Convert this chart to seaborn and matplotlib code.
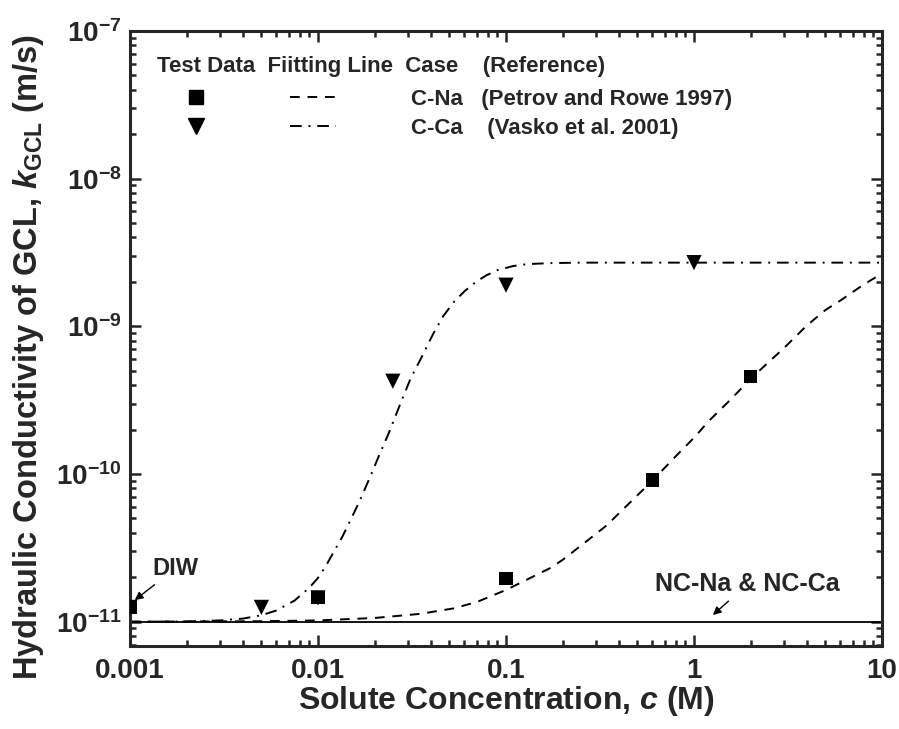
import numpy as np
import pandas as pd
import matplotlib
matplotlib.use("Agg")
import matplotlib.pyplot as plt
import seaborn as sns
from matplotlib.lines import Line2D
from matplotlib.legend_handler import HandlerTuple

# test data
na_conc = [0.001, 0.01, 0.1, 0.6, 2.0]
na_k = [1.25e-11, 1.46e-11, 1.96e-11, 9.1e-11, 4.6e-10]
ca_conc = [0.001, 0.005, 0.01, 0.025, 0.1, 1.0]
ca_k = [1.25e-11, 1.25e-11, 1.45e-11, 4.25e-10, 1.9e-9, 2.7e-9]

# fitting lines, points
na_fit_conc = [0.001, 0.005, 0.01, 0.02, 0.035, 0.0525, 0.07, 0.1, 0.171, 0.2,
               0.28, 0.344, 0.4, 0.6, 0.8, 1.0, 1.2, 1.49, 2.07, 3.0, 3.97,
               5.0, 5.98, 7.0, 8.0, 9.2, 10.0]
na_fit_k = [1.0e-11, 1.008e-11, 1.02e-11, 1.06e-11, 1.13e-11, 1.23e-11,
            1.36e-11, 1.64e-11, 2.3e-11, 2.62e-11, 3.66e-11, 4.5e-11, 5.44e-11,
            9.0e-11, 1.32e-10, 1.76e-10, 2.29e-10, 3.0e-10, 4.6e-10, 7.1e-10,
            1.01e-9, 1.29e-9, 1.49e-9, 1.71e-9, 1.92e-9, 2.14e-9, 2.28e-9]
ca_fit_conc = [0.001, 0.002, 0.003, 0.004, 0.005, 0.006, 0.0075, 0.009, 0.01,
               0.011, 0.012, 0.0135, 0.0148, 0.0165, 0.0189, 0.0213, 0.0237,
               0.0273, 0.031, 0.0356, 0.041, 0.0463, 0.053, 0.0605, 0.07,
               0.0789, 0.09, 0.109, 0.13, 0.171, 0.25, 1.0, 10.0]
ca_fit_k = [1.0e-11, 1.003e-11, 1.02e-11, 1.05e-11, 1.106e-11, 1.19e-11,
            1.39e-11, 1.7e-11, 1.98e-11, 2.38e-11, 2.9e-11, 3.78e-11, 4.8e-11,
            6.4e-11, 9.5e-11, 1.37e-10, 1.87e-10, 2.95e-10, 4.4e-10, 6.2e-10,
            8.9e-10, 1.17e-9, 1.47e-9, 1.74e-9, 2.02e-9, 2.22e-9, 2.4e-9,
            2.56e-9, 2.64e-9, 2.68e-9, 2.7e-9, 2.7e-9, 2.7e-9]

nc_k = 1e-11  # NC-Na & NC-Ca

x_ticks = [0.001, 0.01, 0.1, 1, 10]
x_tick_labels = ["0.001", "0.01", "0.1", "1", "10"]
y_ticks = [1e-11, 1e-10, 1e-9, 1e-8, 1e-7]

sns.set_style("ticks")
plt.rcParams["font.family"] = ["Liberation Sans", "DejaVu Sans"]
plt.rcParams["font.weight"] = "bold"
plt.rcParams["mathtext.fontset"] = "custom"
plt.rcParams["mathtext.rm"] = "Liberation Sans:bold"
plt.rcParams["mathtext.bf"] = "Liberation Sans:bold"
plt.rcParams["mathtext.it"] = "Liberation Sans:bold:italic"

fig = plt.figure(figsize=(8.99, 7.29), dpi=100)
ax = fig.add_axes([0.1446, 0.1139, 0.8365, 0.8436])

ax.axhline(nc_k, color="black", lw=1.3, zorder=1)

na_dash = (0, (5, 4))
ca_dash = (0, (6, 3.5, 1, 3.5))
sns.lineplot(x=na_fit_conc, y=na_fit_k, ax=ax, color="black", lw=1.4,
             linestyle=na_dash, estimator=None, sort=False)
sns.lineplot(x=ca_fit_conc, y=ca_fit_k, ax=ax, color="black", lw=1.4,
             linestyle=ca_dash, estimator=None, sort=False)

sns.scatterplot(x=na_conc, y=na_k, ax=ax, marker="s", color="black", s=90,
                edgecolor="none", zorder=4)
sns.scatterplot(x=ca_conc, y=ca_k, ax=ax, marker="v", color="black", s=120,
                edgecolor="none", zorder=4)

ax.set_xscale("log")
ax.set_yscale("log")
ax.set_xlim(0.001, 10)
ax.set_ylim(6.85e-12, 1e-7)
ax.set_xticks(x_ticks)
ax.set_xticklabels(x_tick_labels)
ax.set_yticks(y_ticks)

ax.tick_params(which="both", direction="in", top=True, right=True, width=1.8,
               labelsize=20)
ax.tick_params(axis="x", pad=9)
ax.tick_params(axis="y", pad=6)
ax.tick_params(which="major", length=8)
ax.tick_params(which="minor", length=4)
for lab in ax.get_xticklabels() + ax.get_yticklabels():
    lab.set_fontweight("bold")
for sp in ax.spines.values():
    sp.set_linewidth(2.2)

ax.set_xlabel(r"Solute Concentration, $c$ (M)", fontsize=23, fontweight="bold")
ax.set_ylabel(r"Hydraulic Conductivity of GCL, $k_{\mathrm{GCL}}$ (m/s)",
              fontsize=23.5, fontweight="bold")
ax.xaxis.set_label_coords(0.5, -0.062)
ax.yaxis.set_label_coords(-0.112, 0.47)

# annotations
arrow = dict(arrowstyle="-|>", color="black", lw=1.0, mutation_scale=12,
             shrinkA=2, shrinkB=0)
ax.annotate("DIW", xy=(0.00106, 1.4e-11), xytext=(0.00175, 2.3e-11),
            fontsize=17, fontweight="bold", ha="center", va="center",
            arrowprops=arrow)
ax.annotate("NC-Na & NC-Ca", xy=(1.26, 1.11e-11), xytext=(1.93, 1.8e-11),
            fontsize=18, fontweight="bold", ha="center", va="center",
            arrowprops=arrow)

# table style legend
ax.text(0.036, 0.943, "Test Data  Fiitting Line  Case    (Reference)",
        transform=ax.transAxes, fontsize=16, fontweight="bold",
        ha="left", va="center")
sq = Line2D([], [], marker="s", ls="none", color="black", markersize=9.5)
tri = Line2D([], [], marker="v", ls="none", color="black", markersize=11)
na_line = Line2D([], [], color="black", lw=1.4, ls=na_dash)
ca_line = Line2D([], [], color="black", lw=1.4, ls=ca_dash)
ax.legend([(sq, na_line), (tri, ca_line)],
          ["C-Na   (Petrov and Rowe 1997)", "C-Ca    (Vasko et al. 2001)"],
          handler_map={tuple: HandlerTuple(ndivide=None, pad=3.2)},
          handlelength=7.3, handletextpad=3.4, labelspacing=0.38,
          prop={"size": 16, "weight": "bold"}, frameon=False,
          loc="upper left", bbox_to_anchor=(0.058, 0.906),
          borderpad=0, borderaxespad=0)

fig.savefig("out.png", dpi=100)
